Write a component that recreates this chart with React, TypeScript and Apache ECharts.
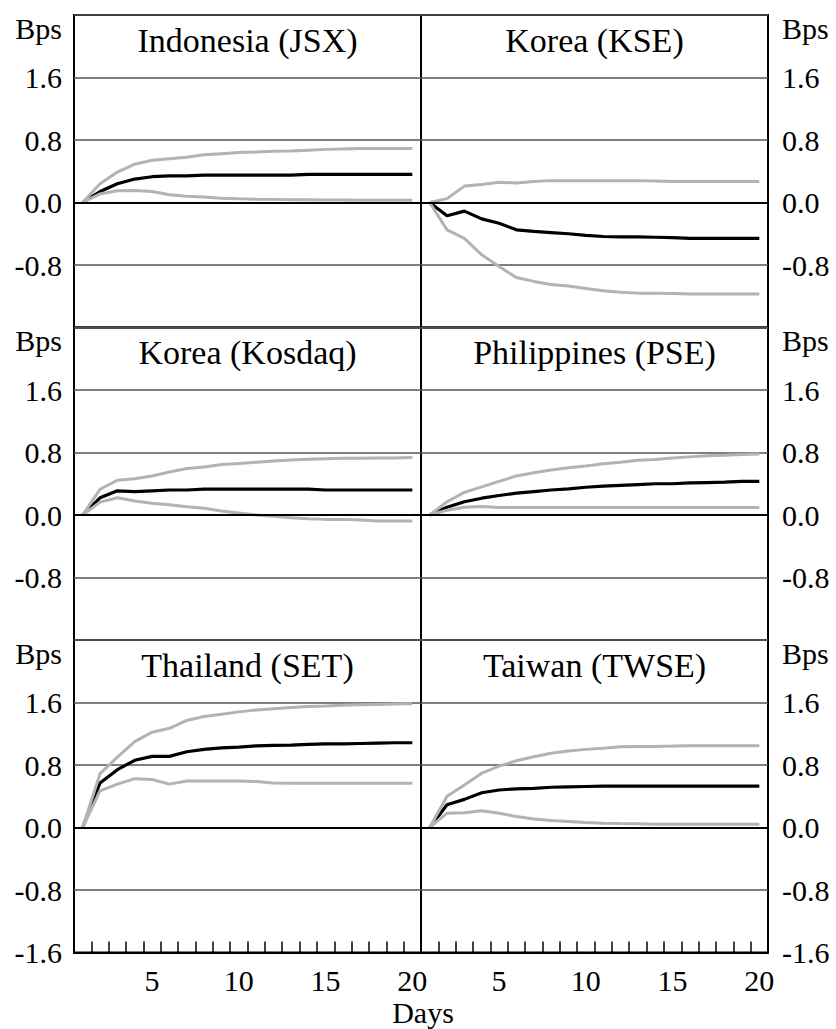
import React, { useEffect, useRef } from 'react';
import * as echarts from 'echarts';

const DAYS = ['1', '2', '3', '4', '5', '6', '7', '8', '9', '10', '11', '12', '13', '14', '15', '16', '17', '18', '19', '20'];
const TITLES = ['Indonesia (JSX)', 'Korea (KSE)', 'Korea (Kosdaq)', 'Philippines (PSE)', 'Thailand (SET)', 'Taiwan (TWSE)'];
const Y_UNIT = 'Bps';
const X_NAME = 'Days';

const IDN_RESP = [0, 0.14, 0.24, 0.30, 0.33, 0.34, 0.34, 0.35, 0.35, 0.35, 0.35, 0.35, 0.35, 0.36, 0.36, 0.36, 0.36, 0.36, 0.36, 0.36];
const IDN_UPPER = [0, 0.24, 0.39, 0.49, 0.54, 0.56, 0.58, 0.61, 0.625, 0.64, 0.645, 0.655, 0.66, 0.67, 0.68, 0.685, 0.69, 0.69, 0.69, 0.69];
const IDN_LOWER = [0, 0.11, 0.15, 0.155, 0.14, 0.10, 0.08, 0.07, 0.055, 0.047, 0.043, 0.04, 0.035, 0.035, 0.033, 0.033, 0.03, 0.03, 0.03, 0.03];

const KSE_RESP = [0, -0.17, -0.11, -0.21, -0.265, -0.35, -0.37, -0.385, -0.40, -0.42, -0.435, -0.44, -0.44, -0.445, -0.45, -0.46, -0.46, -0.46, -0.46, -0.46];
const KSE_UPPER = [0, 0.05, 0.21, 0.23, 0.26, 0.25, 0.27, 0.28, 0.28, 0.28, 0.28, 0.28, 0.28, 0.275, 0.27, 0.27, 0.27, 0.27, 0.27, 0.27];
const KSE_LOWER = [0, -0.35, -0.46, -0.67, -0.82, -0.96, -1.01, -1.05, -1.07, -1.10, -1.13, -1.15, -1.16, -1.16, -1.165, -1.17, -1.17, -1.17, -1.17, -1.17];

const KOSDAQ_RESP = [0, 0.22, 0.31, 0.30, 0.31, 0.32, 0.32, 0.33, 0.33, 0.33, 0.33, 0.33, 0.33, 0.33, 0.32, 0.32, 0.32, 0.32, 0.32, 0.32];
const KOSDAQ_UPPER = [0, 0.33, 0.445, 0.465, 0.50, 0.55, 0.595, 0.615, 0.645, 0.66, 0.675, 0.69, 0.705, 0.715, 0.72, 0.725, 0.727, 0.73, 0.73, 0.735];
const KOSDAQ_LOWER = [0, 0.165, 0.22, 0.18, 0.15, 0.13, 0.107, 0.086, 0.05, 0.026, 0, -0.017, -0.034, -0.047, -0.056, -0.056, -0.064, -0.077, -0.077, -0.077];

const PSE_RESP = [0, 0.10, 0.17, 0.215, 0.25, 0.28, 0.30, 0.32, 0.335, 0.355, 0.37, 0.38, 0.39, 0.40, 0.40, 0.41, 0.415, 0.42, 0.43, 0.43];
const PSE_UPPER = [0, 0.17, 0.29, 0.36, 0.43, 0.50, 0.54, 0.575, 0.605, 0.627, 0.657, 0.675, 0.70, 0.71, 0.73, 0.744, 0.757, 0.765, 0.774, 0.78];
const PSE_LOWER = [0, 0.06, 0.10, 0.11, 0.095, 0.095, 0.095, 0.095, 0.095, 0.095, 0.095, 0.095, 0.095, 0.095, 0.095, 0.095, 0.095, 0.095, 0.095, 0.095];

const SET_RESP = [0, 0.57, 0.74, 0.86, 0.91, 0.91, 0.97, 1.0, 1.02, 1.03, 1.045, 1.05, 1.055, 1.065, 1.07, 1.07, 1.075, 1.08, 1.085, 1.085];
const SET_UPPER = [0, 0.69, 0.90, 1.10, 1.22, 1.27, 1.37, 1.42, 1.45, 1.48, 1.505, 1.52, 1.535, 1.55, 1.555, 1.565, 1.57, 1.575, 1.58, 1.585];
const SET_LOWER = [0, 0.47, 0.555, 0.625, 0.615, 0.555, 0.595, 0.595, 0.595, 0.595, 0.59, 0.57, 0.565, 0.565, 0.565, 0.565, 0.565, 0.565, 0.565, 0.565];

const TWSE_RESP = [0, 0.29, 0.36, 0.445, 0.48, 0.495, 0.50, 0.515, 0.52, 0.525, 0.53, 0.53, 0.53, 0.53, 0.53, 0.53, 0.53, 0.53, 0.53, 0.53];
const TWSE_UPPER = [0, 0.40, 0.545, 0.695, 0.785, 0.855, 0.905, 0.95, 0.98, 1.0, 1.013, 1.034, 1.038, 1.038, 1.042, 1.047, 1.047, 1.047, 1.047, 1.047];
const TWSE_LOWER = [0, 0.183, 0.19, 0.213, 0.183, 0.14, 0.11, 0.089, 0.077, 0.064, 0.055, 0.05, 0.047, 0.043, 0.043, 0.043, 0.043, 0.043, 0.043, 0.043];

const PANELS = [
  { resp: IDN_RESP, upper: IDN_UPPER, lower: IDN_LOWER },
  { resp: KSE_RESP, upper: KSE_UPPER, lower: KSE_LOWER },
  { resp: KOSDAQ_RESP, upper: KOSDAQ_UPPER, lower: KOSDAQ_LOWER },
  { resp: PSE_RESP, upper: PSE_UPPER, lower: PSE_LOWER },
  { resp: SET_RESP, upper: SET_UPPER, lower: SET_LOWER },
  { resp: TWSE_RESP, upper: TWSE_UPPER, lower: TWSE_LOWER },
];

const FONT = 'Liberation Serif';
const LEFTS = [74, 421];
const PW = 347;
const TOPS = [15, 327.5, 640];
const PH = 312.5;

export default function App() {
  const ref = useRef<HTMLDivElement>(null);
  useEffect(() => {
    if (!ref.current) return;
    const chart = echarts.init(ref.current, null, { renderer: 'svg' });
    const grids: any[] = [];
    const xAxes: any[] = [];
    const yAxes: any[] = [];
    const series: any[] = [];
    const graphics: any[] = [];
    PANELS.forEach((p, i) => {
      const row = Math.floor(i / 2);
      const col = i % 2;
      const bottom = row === 2;
      grids.push({
        left: LEFTS[col], top: TOPS[row], width: PW, height: PH,
        show: true, borderColor: '#000', borderWidth: 2, backgroundColor: 'transparent',
      });
      xAxes.push({
        type: 'category', gridIndex: i, data: DAYS, boundaryGap: true, position: 'bottom',
        axisLine: { show: bottom, onZero: false, lineStyle: { color: '#000', width: 2 } },
        axisTick: { show: bottom, inside: true, length: 11, interval: 0, lineStyle: { color: '#000', width: 1.5 } },
        axisLabel: {
          show: bottom, interval: (idx: number) => (idx + 1) % 5 === 0,
          fontFamily: FONT, fontSize: 30, color: '#000', margin: 13,
        },
        splitLine: { show: false },
      });
      yAxes.push({
        type: 'value', gridIndex: i, min: -1.6, max: 2.4, interval: 0.8,
        position: col === 0 ? 'left' : 'right',
        axisLine: { show: false }, axisTick: { show: false },
        axisLabel: {
          showMinLabel: true, showMaxLabel: true,
          formatter: (v: number) => {
            if (v > 2) return '';
            if (v < -1.2 && !bottom) return '';
            return Math.abs(v) < 1e-9 ? '0.0' : v.toFixed(1);
          },
          fontFamily: FONT, fontSize: 30, color: '#000', margin: col === 0 ? 12 : 14,
        },
        splitLine: { show: true, lineStyle: { color: '#555', width: 1.5 } },
      });
      series.push({
        type: 'line', xAxisIndex: i, yAxisIndex: i, data: p.resp, symbol: 'none', z: 3,
        lineStyle: { color: '#000', width: 3.2 }, itemStyle: { color: '#000' },
        markLine: {
          silent: true, symbol: ['none', 'none'], label: { show: false },
          lineStyle: { color: '#000', width: 2, type: 'solid' },
          data: [{ yAxis: 0 }],
        },
      });
      series.push({
        type: 'line', xAxisIndex: i, yAxisIndex: i, data: p.upper, symbol: 'none', z: 4,
        lineStyle: { color: '#b3b3b3', width: 3 }, itemStyle: { color: '#b3b3b3' },
      });
      series.push({
        type: 'line', xAxisIndex: i, yAxisIndex: i, data: p.lower, symbol: 'none', z: 4,
        lineStyle: { color: '#b3b3b3', width: 3 }, itemStyle: { color: '#b3b3b3' },
      });
      graphics.push({
        type: 'text', x: LEFTS[col] + PW / 2, y: TOPS[row] + 25,
        style: { text: TITLES[i], fontFamily: FONT, fontSize: 34, fill: '#000', align: 'center', verticalAlign: 'middle' },
      });
      graphics.push({
        type: 'text', x: col === 0 ? LEFTS[0] - 12 : LEFTS[1] + PW + 14, y: TOPS[row] + 13,
        style: { text: Y_UNIT, fontFamily: FONT, fontSize: 30, fill: '#000', align: col === 0 ? 'right' : 'left', verticalAlign: 'middle' },
      });
    });
    graphics.push({
      type: 'text', x: 423, y: 1012,
      style: { text: X_NAME, fontFamily: FONT, fontSize: 30, fill: '#000', align: 'center', verticalAlign: 'middle' },
    });
    chart.setOption({
      animation: false,
      backgroundColor: '#fff',
      textStyle: { fontFamily: FONT },
      grid: grids,
      xAxis: xAxes,
      yAxis: yAxes,
      series,
      graphic: graphics,
    });
    return () => chart.dispose();
  }, []);
  return <div ref={ref} style={{ position: 'fixed', left: 0, top: 0, width: 836, height: 1029 }} />;
}
